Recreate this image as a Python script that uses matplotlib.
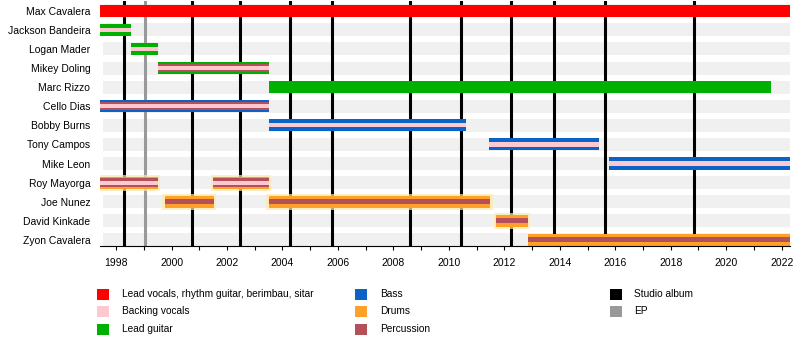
import matplotlib
matplotlib.use('Agg')
import matplotlib.pyplot as plt
from matplotlib.patches import Rectangle

plt.rcParams['font.family'] = ['Liberation Sans', 'DejaVu Sans']

# 成员及在队时间（年份，小数表示月份）
names = ['Max Cavalera', 'Jackson Bandeira', 'Logan Mader', 'Mikey Doling',
         'Marc Rizzo', 'Cello Dias', 'Bobby Burns', 'Tony Campos', 'Mike Leon',
         'Roy Mayorga', 'Joe Nunez', 'David Kinkade', 'Zyon Cavalera']
periods = [
    [(1997.42, 2022.3)],
    [(1997.42, 1998.53)],
    [(1998.53, 1999.5)],
    [(1999.5, 2003.5)],
    [(2003.5, 2021.6)],
    [(1997.42, 2003.5)],
    [(2003.5, 2010.6)],
    [(2011.43, 2015.4)],
    [(2015.76, 2022.3)],
    [(1997.42, 1999.5), (2001.49, 2003.5)],
    [(1999.75, 2001.53), (2003.5, 2011.5)],
    [(2011.7, 2012.86)],
    [(2012.86, 2022.3)],
]
roles = [
    ['vocals'],
    ['guitar', 'backing'],
    ['guitar', 'backing'],
    ['guitar', 'percussion', 'backing'],
    ['guitar'],
    ['bass', 'percussion', 'backing'],
    ['bass', 'backing'],
    ['bass', 'backing'],
    ['bass', 'backing'],
    ['drums', 'percussion', 'backing'],
    ['drums', 'percussion'],
    ['drums', 'percussion'],
    ['drums', 'percussion'],
]

# 录音室专辑 / EP 发行时间
studio_albums = [1998.29, 2000.75, 2002.48, 2004.26, 2005.78, 2008.6,
                 2010.44, 2012.24, 2013.79, 2015.63, 2018.84]
eps = [1999.06]

role_colors = {
    'vocals': '#ff0000',
    'backing': '#ffc8d0',
    'guitar': '#00b000',
    'bass': '#0a64c8',
    'drums': '#ffa028',
    'percussion': '#b4505a',
}
legend_items = [
    ('vocals', 'Lead vocals, rhythm guitar, berimbau, sitar'),
    ('backing', 'Backing vocals'),
    ('guitar', 'Lead guitar'),
    ('bass', 'Bass'),
    ('drums', 'Drums'),
    ('percussion', 'Percussion'),
]
x_start, x_end = 1997.42, 2022.3

fig = plt.figure(figsize=(8, 3.45), dpi=100)
ax = fig.add_axes([0.125, 1 - 246 / 345, 0.8625, 245 / 345])

n = len(names)
ax.set_xlim(x_start, x_end)
ax.set_ylim(n - 0.68, -0.51)

# 背景条纹
for i in range(n):
    ax.add_patch(Rectangle((x_start + 0.1, i - 0.34), x_end - x_start - 0.1, 0.68,
                           facecolor='#f0f0f0', edgecolor='none', zorder=0))

# 专辑竖线
for x in studio_albums:
    ax.axvline(x, color='black', lw=2.2, zorder=1)
for x in eps:
    ax.axvline(x, color='#999999', lw=2.2, zorder=1)

bar_h = 0.63
for i, (spans, rl) in enumerate(zip(periods, roles)):
    for s, e in spans:
        if rl[0] == 'drums' and names[i] != 'Zyon Cavalera':
            # 鼓手条带外围淡黄色光晕
            ax.add_patch(Rectangle((s - 0.08, i - bar_h / 2 - 0.1), e - s + 0.16, bar_h + 0.2,
                                   facecolor='#ffe9a8', edgecolor='none', alpha=0.7, zorder=2))
        for k, r in enumerate(rl):
            if k == 0:
                h = bar_h
            elif r == 'percussion':
                h = 0.44 if 'backing' in rl else 0.26
            else:
                h = 0.22
            ax.add_patch(Rectangle((s, i - h / 2), e - s, h,
                                   facecolor=role_colors[r], edgecolor='none', zorder=3 + k))

ax.set_yticks(range(n))
ax.set_yticklabels(names, fontsize=7.5)
ax.tick_params(axis='y', length=0, pad=7)

ax.set_xticks(range(1998, 2023, 2))
ax.set_xticks(range(1998, 2023), minor=True)
ax.tick_params(axis='x', which='both', length=3, width=0.8, pad=5.5, labelsize=7.5)

for side in ['top', 'right', 'left']:
    ax.spines[side].set_visible(False)
ax.spines['bottom'].set_linewidth(0.8)
ax.spines['bottom'].set_zorder(10)

# 图例
W, H = 800, 345
col_x = [97, 355]
row_y = [294, 311.5, 329]
for idx, (key, label) in enumerate(legend_items):
    cx = col_x[idx // 3]
    cy = row_y[idx % 3]
    fig.add_artist(Rectangle((cx / W, 1 - (cy + 5.5) / H), 12 / W, 11 / H,
                             facecolor=role_colors[key], edgecolor='none',
                             transform=fig.transFigure))
    fig.text((cx + 25) / W, 1 - cy / H, label, fontsize=7.3, va='center', ha='left')

extra = [('black', 'Studio album'), ('#999999', 'EP')]
for idx, (c, label) in enumerate(extra):
    cy = row_y[idx]
    fig.add_artist(Rectangle((610 / W, 1 - (cy + 5.5) / H), 12 / W, 11 / H,
                             facecolor=c, edgecolor='none', transform=fig.transFigure))
    fig.text(634 / W, 1 - cy / H, label, fontsize=7.3, va='center', ha='left')

fig.savefig('out.png', dpi=100)
